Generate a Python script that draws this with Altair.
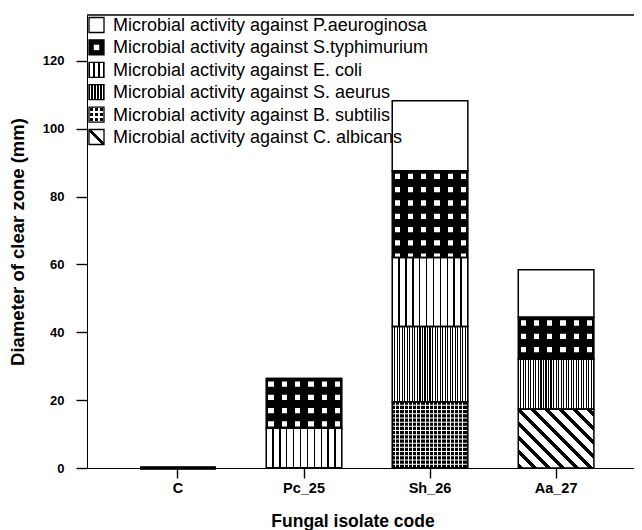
import math
import altair as alt
import pandas as pd

# ---------------- data ----------------
isolates = ["C", "Pc_25", "Sh_26", "Aa_27"]
series = [
    "P.aeuroginosa",
    "S.typhimurium",
    "E. coli",
    "S. aeurus",
    "B. subtilis",
    "C. albicans",
]
p_aeru = [0, 0, 20.6, 14.0]
s_typh = [0, 14.7, 25.6, 12.3]
e_coli = [0, 11.7, 20.3, 0]
s_aeur = [0, 0, 22.2, 14.8]
b_subt = [0, 0, 19.5, 0]
c_albi = [0, 0, 0, 17.3]
y_ticks = [0, 20, 40, 60, 80, 100, 120]
legend_prefix = "Microbial activity against "

series_values = [p_aeru, s_typh, e_coli, s_aeur, b_subt, c_albi]
rows = []
for si, (name, vals) in enumerate(zip(series, series_values)):
    for iso, v in zip(isolates, vals):
        rows.append({"isolate": iso, "series": name, "value": v,
                     "order": len(series) - 1 - si})
df = pd.DataFrame(rows)
legend_df = pd.DataFrame({"series": series,
                          "label": [legend_prefix + s for s in series]})

# ---------------- layout / style ----------------
W, H = 547, 453
YMAX = 133.5
PPU = H / YMAX
P_IN, P_OUT, ALIGN = 0.4, 0.37, 0.57
STEP = W / (len(isolates) - P_IN + 2 * P_OUT)
BW = STEP * (1 - P_IN)
FONT = "Liberation Sans"
CLEAR = "rgba(0,0,0,0)"


def stripe_stops(total, period, width, phase, on, off):
    iv = []
    k = -int(math.ceil((phase + width) / period)) - 1
    while True:
        a = phase + k * period
        if a >= total:
            break
        s, e = max(a, 0.0), min(a + width, total)
        if e > 0 and s < total and e > s:
            iv.append((s, e))
        k += 1
    stops = [{"offset": 0, "color": off}]
    for s, e in iv:
        stops += [
            {"offset": round(s / total, 5), "color": off},
            {"offset": round(s / total, 5), "color": on},
            {"offset": round(e / total, 5), "color": on},
            {"offset": round(e / total, 5), "color": off},
        ]
    stops.append({"offset": 1, "color": off})
    return stops


def hgrad(stops):
    return {"gradient": "linear", "x1": 0, "y1": 0, "x2": 1, "y2": 0, "stops": stops}


def vgrad(stops):
    return {"gradient": "linear", "x1": 0, "y1": 0, "x2": 0, "y2": 1, "stops": stops}


def diag_grad(w, h, period, width, on, off):
    lam = (w + h) / (w * w + h * h)
    total = w + h
    st = stripe_stops(total, period, width, h - width / 2, on, off)
    return {"gradient": "linear", "x1": 0, "y1": 1, "x2": round(lam * w, 5),
            "y2": round(1 - lam * h, 5), "stops": st}


# bar fills
fill_ecoli = hgrad(stripe_stops(BW, BW / 11, 1.3, BW / 11 - 0.65, "black", "white"))
fill_aeur = hgrad(stripe_stops(BW, BW / 30, 1.1, BW / 30 - 0.55, "black", "white"))
fill_typh_cols = hgrad(stripe_stops(BW, 13.3, 5.3, 2.3, CLEAR, "black"))
fill_subt_cols = hgrad(stripe_stops(BW, 4.2, 1.0, 3.0, "white", CLEAR))
fill_calb = diag_grad(BW, max(c_albi) * PPU, 14.0, 4.2, "black", "white")

# legend symbol fills (15 px squares)
SYM = 15.0
lg_ecoli = hgrad(stripe_stops(SYM, 5.0, 1.3, 4.35, "black", "white"))
lg_aeur = hgrad(stripe_stops(SYM, 3.0, 1.1, 2.45, "black", "white"))
lg_subt_v = hgrad(stripe_stops(SYM, 5.0, 1.5, 4.25, "white", CLEAR))
lg_subt_h = vgrad(stripe_stops(SYM, 5.0, 1.5, 4.25, "white", CLEAR))
lg_calb = diag_grad(SYM, SYM, 100.0, 4.5, "black", "white")

# ---------------- scales / axes ----------------
xscale = alt.Scale(domain=isolates, paddingInner=P_IN, paddingOuter=P_OUT, align=ALIGN)
yscale = alt.Scale(domain=[0, YMAX], nice=False, zero=True)
xaxis = alt.Axis(title="Fungal isolate code", labelAngle=0, tickSize=10,
                 labelPadding=3, labelFontSize=14.5, titleFontSize=17.5,
                 titlePadding=18, titleX=265.5)
yaxis = alt.Axis(title="Diameter of clear zone (mm)", values=y_ticks, format="d",
                 tickSize=11, labelPadding=12, labelFontSize=13,
                 titleFontSize=18.5, titlePadding=15)
X = alt.X("isolate:N", sort=isolates, scale=xscale, axis=xaxis)


def seg():
    return (alt.Chart(df)
            .transform_window(y1="sum(value)", groupby=["isolate"],
                              sort=[alt.SortField("order", order="ascending")],
                              frame=[None, 0])
            .transform_calculate(y0="datum.y1 - datum.value"))


def seg_bar(name, fill):
    return (seg().transform_filter(alt.datum.series == name)
            .mark_bar(fill=fill, strokeWidth=0)
            .encode(x=X, y=alt.Y("y1:Q", scale=yscale, axis=yaxis), y2="y0:Q"))


def hstripes(name, period_px, width_px, off_px, mode, color):
    P, Wd, O = period_px / PPU, width_px / PPU, off_px / PPU
    ch = (seg().transform_filter(alt.datum.series == name)
          .transform_filter("datum.value > 0")
          .transform_calculate(k="sequence(0, 40)")
          .transform_flatten(["k"]))
    if mode == "gaps":
        dlo = f"datum.k == 0 ? 0 : {O} + (datum.k - 1) * {P} + {Wd}"
        dhi = f"min({O} + datum.k * {P}, datum.value)"
    else:
        dlo = f"{O} + datum.k * {P}"
        dhi = f"min({O} + datum.k * {P} + {Wd}, datum.value)"
    ch = (ch.transform_calculate(dlo=dlo)
          .transform_calculate(dhi=dhi)
          .transform_filter("datum.dlo < datum.value")
          .transform_calculate(hy1="datum.y1 - datum.dlo")
          .transform_calculate(hy0="datum.y1 - datum.dhi"))
    return ch.mark_bar(fill=color, strokeWidth=0).encode(
        x=X, y=alt.Y("hy1:Q", scale=yscale, axis=yaxis), y2="hy0:Q")


bar_layers = [
    seg_bar("P.aeuroginosa", "white"),
    seg_bar("S.typhimurium", "white"),
    seg_bar("E. coli", fill_ecoli),
    seg_bar("S. aeurus", fill_aeur),
    seg_bar("B. subtilis", "black"),
    seg_bar("C. albicans", fill_calb),
    seg_bar("S.typhimurium", fill_typh_cols),
    hstripes("S.typhimurium", 13.3, 5.3, 3.0, "gaps", "black"),
    seg_bar("B. subtilis", fill_subt_cols),
    hstripes("B. subtilis", 4.2, 1.0, 3.0, "rows", "white"),
    seg().mark_bar(fill="transparent", stroke="black")
         .encode(x=X, y=alt.Y("y1:Q", scale=yscale, axis=yaxis), y2="y0:Q",
                 strokeWidth=alt.condition(alt.datum.isolate == "C",
                                           alt.value(2.6), alt.value(1.5))),
    alt.Chart(pd.DataFrame({"f": [0]})).mark_rule(color="black", strokeWidth=1.5)
       .encode(x=alt.value(0), x2=alt.value(W), y=alt.value(0)),
]
bars = alt.layer(*bar_layers)

# ---------------- legend ----------------
LY = alt.Y("series:N", scale=alt.Scale(type="point", domain=series,
                                        range=[10, 122], padding=0), axis=None)
LX = alt.value(9.5)


def lsym(name, fill, size=225, stroke=None):
    kw = dict(size=size, fill=fill, opacity=1, strokeWidth=0)
    if stroke:
        kw.update(stroke=stroke, strokeWidth=1.3)
    ch = alt.Chart(legend_df)
    if name is not None:
        ch = ch.transform_filter(alt.datum.series == name)
    return ch.mark_square(**kw).encode(x=LX, y=LY)


legend_layers = [
    lsym("P.aeuroginosa", "white"),
    lsym("S.typhimurium", "black"),
    lsym("S.typhimurium", "white", size=30),
    lsym("E. coli", lg_ecoli),
    lsym("S. aeurus", lg_aeur),
    lsym("B. subtilis", "black"),
    lsym("B. subtilis", lg_subt_v),
    lsym("B. subtilis", lg_subt_h),
    lsym("C. albicans", lg_calb),
    lsym(None, "transparent", stroke="black"),
    alt.Chart(legend_df).mark_text(align="left", baseline="middle", fontSize=18,
                                   font=FONT, color="black", dy=1)
       .encode(x=alt.value(26), y=LY, text="label:N"),
]
legend = alt.layer(*legend_layers)

chart = (
    alt.layer(bars, legend)
    .resolve_scale(y="independent")
    .properties(width=W, height=H,
                padding={"left": 79, "top": 7, "right": 0, "bottom": 62},
                autosize=alt.AutoSizeParams(type="none"))
    .configure_view(stroke=None)
    .configure_axis(domainColor="black", domainWidth=1, tickColor="black",
                    tickWidth=1.4, labelColor="black", titleColor="black",
                    labelFont=FONT, titleFont=FONT, labelFontWeight="bold",
                    titleFontWeight="bold", grid=False)
)

chart.save("out.html", embed_options={"renderer": "svg", "actions": False})
